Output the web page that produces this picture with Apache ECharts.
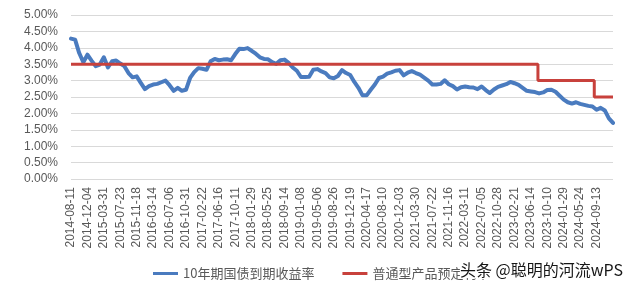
<!DOCTYPE html>
<html>
<head>
<meta charset="utf-8">
<script src="https://cdn.jsdelivr.net/npm/echarts@6/dist/echarts.min.js"></script>
<style>
html,body{margin:0;padding:0;background:#fff;}
#main{width:640px;height:288px;}
</style>
</head>
<body>
<div id="main"></div>
<script>
// X-axis tick labels (one every label interval)
const dateLabels = ['2014-08-11','2014-12-04','2015-03-31','2015-07-23','2015-11-18','2016-03-14','2016-07-06','2016-10-31','2017-02-22','2017-06-16','2017-10-11','2018-01-29','2018-05-25','2018-09-14','2019-01-08','2019-05-06','2019-08-26','2019-12-19','2020-04-17','2020-08-10','2020-12-03','2021-03-30','2021-07-22','2021-11-16','2022-03-11','2022-07-05','2022-10-28','2023-02-21','2023-06-14','2023-10-10','2024-01-29','2024-05-24','2024-09-13'];
// samples per label interval for the yield series
const samplesPerLabel = 4;
// 10-year government bond yield (%)
const bondYield = [
4.28,4.25,3.84,3.56,3.79,3.61,3.44,3.49,3.71,3.40,
3.59,3.61,3.52,3.44,3.23,3.10,3.13,2.93,2.74,2.83,
2.88,2.90,2.95,3.00,2.86,2.69,2.78,2.69,2.72,3.08,
3.26,3.38,3.36,3.33,3.59,3.66,3.62,3.64,3.65,3.62,
3.81,3.97,3.96,3.99,3.91,3.82,3.71,3.66,3.65,3.56,
3.51,3.62,3.64,3.54,3.40,3.30,3.11,3.11,3.12,3.33,
3.35,3.28,3.23,3.10,3.07,3.14,3.32,3.23,3.17,2.96,
2.78,2.55,2.55,2.72,2.88,3.08,3.12,3.21,3.25,3.30,
3.32,3.16,3.24,3.29,3.23,3.18,3.09,3.00,2.88,2.88,
2.90,3.01,2.89,2.83,2.73,2.80,2.82,2.80,2.79,2.74,
2.82,2.71,2.62,2.73,2.81,2.85,2.89,2.96,2.92,2.87,
2.78,2.69,2.67,2.65,2.61,2.64,2.71,2.72,2.66,2.54,
2.42,2.34,2.30,2.34,2.29,2.26,2.23,2.21,2.11,2.17,
2.09,1.85,1.71
];
// Pricing rate of ordinary products (%), with change points on the label-index axis
const rateBreaks = [0, 28.43, 31.86, 33];
const rateValues = [3.5, 3.0, 2.5];
const seriesNames = ['10年期国债到期收益率', '普通型产品预定利率'];
const watermark = '头条 @聪明的河流wPS';

const yieldData = bondYield.map((v, i) => [i / samplesPerLabel, v]);
const rateData = [];
rateValues.forEach((r, i) => { rateData.push([rateBreaks[i], r]); rateData.push([rateBreaks[i + 1], r]); });

const chart = echarts.init(document.getElementById('main'), null, {renderer: 'canvas'});
chart.setOption({
  animation: false,
  backgroundColor: '#fff',
  grid: {left: 71, right: 27, top: 15, bottom: 109, containLabel: false, outerBoundsMode: 'none'},
  xAxis: {
    type: 'value', min: 0, max: 33, interval: 1,
    axisLine: {show: false}, axisTick: {show: false}, splitLine: {show: false},
    axisLabel: {
      rotate: 90, margin: 8, color: '#595959', fontSize: 12, fontFamily: 'Liberation Sans',
      hideOverlap: false, showMinLabel: true, showMaxLabel: true,
      formatter: v => (Number.isInteger(v) && dateLabels[v]) ? dateLabels[v] : ''
    }
  },
  yAxis: {
    type: 'value', min: 0, max: 5, interval: 0.5,
    axisLine: {show: false}, axisTick: {show: false},
    splitLine: {lineStyle: {color: '#d9d9d9', width: 1}},
    axisLabel: {margin: 13, color: '#595959', fontSize: 12, fontFamily: 'Liberation Sans',
      formatter: v => v.toFixed(2) + '%'}
  },
  legend: {
    left: 148, top: 262, itemWidth: 25, itemHeight: 3, itemGap: 28, icon: 'rect',
    textStyle: {color: '#595959', fontSize: 13, fontFamily: 'Noto Sans CJK SC'},
    data: seriesNames
  },
  series: [
    {name: seriesNames[0], type: 'line', data: yieldData, showSymbol: false, symbol: 'none',
      lineStyle: {color: '#4a7bbf', width: 4, join: 'round', cap: 'round'}, itemStyle: {color: '#4a7bbf'}},
    {name: seriesNames[1], type: 'line', data: rateData, showSymbol: false, symbol: 'none',
      lineStyle: {color: '#c8413c', width: 3}, itemStyle: {color: '#c8413c'}}
  ],
  graphic: [{
    type: 'text', left: 459, top: 261, z: 100,
    style: {text: watermark, fill: '#161616', font: '16px "Noto Sans CJK SC"',
      backgroundColor: '#fff', stroke: '#fff', lineWidth: 2}
  }]
});
</script>
</body>
</html>
